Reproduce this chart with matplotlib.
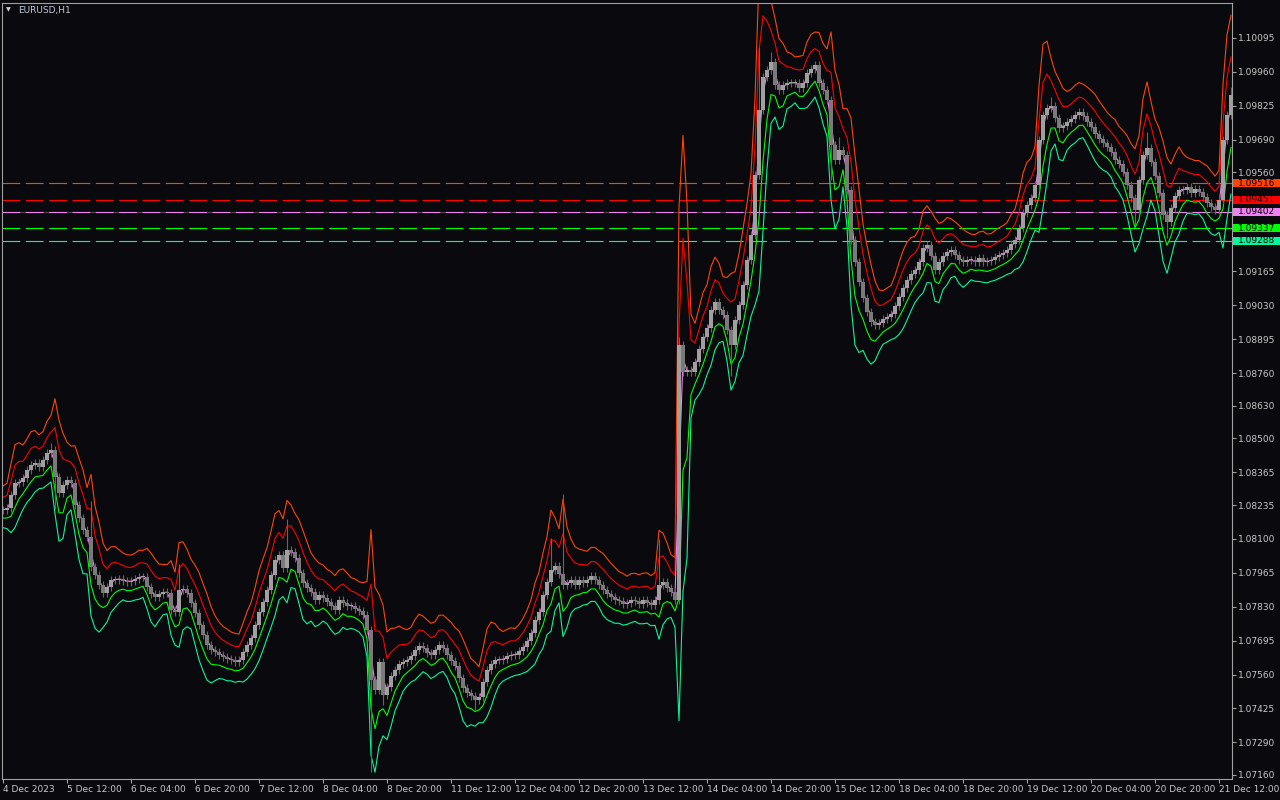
import numpy as np
import pandas as pd
import matplotlib
matplotlib.use("Agg")
import matplotlib.pyplot as plt
from matplotlib.patches import Rectangle

SYMBOL = "EURUSD,H1"

# hourly closes, first bar 4 Dec 2023 20:00
CLOSE = [
    1.08216, 1.08224, 1.08276, 1.08324, 1.08328, 1.08344, 1.08375, 1.08395, 1.08403, 1.08387,
    1.08415, 1.08443, 1.08455, 1.08348, 1.08284, 1.08316, 1.08336, 1.08324, 1.08236, 1.08184,
    1.08137, 1.08109, 1.07990, 1.07958, 1.07918, 1.07886, 1.07910, 1.07938, 1.07938, 1.07942,
    1.07934, 1.07930, 1.07934, 1.07942, 1.07950, 1.07950, 1.07910, 1.07882, 1.07870, 1.07882,
    1.07890, 1.07886, 1.07818, 1.07810, 1.07898, 1.07902, 1.07886, 1.07846, 1.07806, 1.07758,
    1.07719, 1.07679, 1.07659, 1.07651, 1.07639, 1.07631, 1.07623, 1.07619, 1.07611, 1.07619,
    1.07651, 1.07679, 1.07707, 1.07758, 1.07810, 1.07850, 1.07898, 1.07958, 1.08017, 1.08037,
    1.07985, 1.08057, 1.08049, 1.08025, 1.07965, 1.07926, 1.07906, 1.07890, 1.07858, 1.07878,
    1.07866, 1.07850, 1.07834, 1.07818, 1.07858, 1.07846, 1.07834, 1.07834, 1.07822, 1.07814,
    1.07798, 1.07739, 1.07540, 1.07500, 1.07611, 1.07480, 1.07512, 1.07556, 1.07579, 1.07603,
    1.07611, 1.07619, 1.07635, 1.07659, 1.07675, 1.07667, 1.07647, 1.07639, 1.07659, 1.07679,
    1.07667, 1.07639, 1.07615, 1.07595, 1.07548, 1.07508, 1.07488, 1.07476, 1.07460, 1.07472,
    1.07532, 1.07579, 1.07603, 1.07619, 1.07619, 1.07623, 1.07635, 1.07639, 1.07639, 1.07655,
    1.07671, 1.07695, 1.07727, 1.07778, 1.07810, 1.07878, 1.07930, 1.07977, 1.07993, 1.07961,
    1.07918, 1.07926, 1.07938, 1.07918, 1.07938, 1.07926, 1.07938, 1.07954, 1.07938, 1.07918,
    1.07898, 1.07882, 1.07870, 1.07858, 1.07854, 1.07842, 1.07846, 1.07858, 1.07854, 1.07842,
    1.07858, 1.07846, 1.07838, 1.07858, 1.07918, 1.07930, 1.07906, 1.07890, 1.07858, 1.08873,
    1.08765, 1.08773, 1.08765, 1.08805, 1.08857, 1.08905, 1.08941, 1.09012, 1.09044, 1.09012,
    1.08992, 1.08933, 1.08873, 1.08972, 1.09032, 1.09112, 1.09211, 1.09311, 1.09550, 1.09808,
    1.09940, 1.09967, 1.09999, 1.09908, 1.09888, 1.09908, 1.09916, 1.09916, 1.09916, 1.09896,
    1.09916, 1.09955, 1.09971, 1.09987, 1.09916, 1.09888, 1.09848, 1.09669, 1.09609, 1.09649,
    1.09629, 1.09490, 1.09291, 1.09203, 1.09124, 1.09060, 1.09004, 1.08964, 1.08953, 1.08961,
    1.08976, 1.08984, 1.08996, 1.09028, 1.09064, 1.09100, 1.09132, 1.09155, 1.09171, 1.09203,
    1.09259, 1.09271, 1.09227, 1.09171, 1.09203, 1.09227, 1.09243, 1.09251, 1.09231, 1.09211,
    1.09203, 1.09211, 1.09211, 1.09203, 1.09219, 1.09203, 1.09207, 1.09211, 1.09223, 1.09231,
    1.09239, 1.09251, 1.09275, 1.09291, 1.09339, 1.09398, 1.09430, 1.09458, 1.09510, 1.09689,
    1.09788, 1.09816, 1.09824, 1.09776, 1.09737, 1.09744, 1.09760, 1.09772, 1.09788, 1.09800,
    1.09784, 1.09760, 1.09741, 1.09713, 1.09693, 1.09677, 1.09661, 1.09641, 1.09609, 1.09593,
    1.09561, 1.09510, 1.09458, 1.09410, 1.09530, 1.09629, 1.09657, 1.09601, 1.09546, 1.09478,
    1.09390, 1.09362, 1.09418, 1.09466, 1.09490, 1.09490, 1.09502, 1.09478, 1.09494, 1.09482,
    1.09462, 1.09438, 1.09422, 1.09410, 1.09450, 1.09689, 1.09788, 1.09868,
]
# long wicks that stick out (bar index -> price)
WICK_HIGH = {12: 1.08480, 22: 1.08250, 44: 1.08000, 71: 1.08180, 137: 1.08105,
             140: 1.08280, 164: 1.08100, 169: 1.08905, 189: 1.10060, 192: 1.10040,
             209: 1.09700, 262: 1.09860, 286: 1.09720, 307: 1.09900}
WICK_LOW = {13: 1.08220, 92: 1.07170, 95: 1.07440, 118: 1.07420, 182: 1.08750,
            207: 1.09530, 283: 1.09350, 291: 1.09300}

TIME_LABELS = ["4 Dec 2023", "5 Dec 12:00", "6 Dec 04:00", "6 Dec 20:00", "7 Dec 12:00",
               "8 Dec 04:00", "8 Dec 20:00", "11 Dec 12:00", "12 Dec 04:00", "12 Dec 20:00",
               "13 Dec 12:00", "14 Dec 04:00", "14 Dec 20:00", "15 Dec 12:00", "18 Dec 04:00",
               "18 Dec 20:00", "19 Dec 12:00", "20 Dec 04:00", "20 Dec 20:00", "21 Dec 12:00"]
PRICE_TICKS = [1.10095, 1.09960, 1.09825, 1.09690, 1.09560, 1.09165, 1.09030, 1.08895,
               1.08760, 1.08630, 1.08500, 1.08365, 1.08235, 1.08100, 1.07965, 1.07830,
               1.07695, 1.07560, 1.07425, 1.07290, 1.07160]
LEVELS = [1.09516, 1.09451, 1.09402, 1.09337, 1.09288]

BG = "#0a0a0e"
TXT = "#c8c8c8"
C_UP2, C_UP1, C_MID, C_DN1, C_DN2 = "#ff4500", "#ff0000", "#ee82ee", "#00ff00", "#00fa9a"
LEVEL_COLORS = [C_UP2, C_UP1, C_MID, C_DN1, C_DN2]

close = pd.Series(CLOSE)
n = len(close)
x = np.arange(n)
opn = close.shift(1).fillna(close.iloc[0])
hi = (np.maximum(opn, close) + 0.00016).to_numpy()
lo = (np.minimum(opn, close) - 0.00016).to_numpy()
for k, v in WICK_HIGH.items():
    hi[k] = max(hi[k], v)
for k, v in WICK_LOW.items():
    lo[k] = min(lo[k], v)

# bands: fast mean +/- range and deviation terms
prev = opn.to_numpy()
tr = pd.Series(np.maximum(hi, prev) - np.minimum(lo, prev))
atr = tr.ewm(alpha=0.5, adjust=False).mean()
sd = close.rolling(4, min_periods=1).std(ddof=0)
mid = close.rolling(2, min_periods=1).mean()
up2 = mid + 0.00062 + 1.0 * atr + 1.0 * sd
up1 = mid + 0.00030 + 0.6 * atr + 0.5 * sd
dn1 = mid - 0.00020 - 0.4 * atr - 0.6 * sd
dn2 = mid - 0.00052 - 0.6 * atr - 1.4 * sd

fig = plt.figure(figsize=(12.8, 8), dpi=100, facecolor=BG)
ax = fig.add_axes([2 / 1280, 21 / 800, 1230 / 1280, 776 / 800], facecolor=BG)
ax.set_xlim(-0.25, 307.25)
ax.set_ylim(1.07144, 1.10234)

# level lines
ax.axhline(LEVELS[2], color="#4a4a4a", lw=0.8, zorder=1)
for lv, col in zip(LEVELS, LEVEL_COLORS):
    ln = ax.axhline(lv, color=col, lw=0.8, zorder=1.5)
    ln.set_dashes((16, 5))

for s, col in [(up2, C_UP2), (up1, C_UP1), (dn2, C_DN2), (dn1, C_DN1), (mid, C_MID)]:
    ax.plot(x, s, color=col, lw=0.8, zorder=2)

# candles
ax.vlines(x, lo, hi, color="#666666", lw=0.8, zorder=3)
bull = (close >= opn).to_numpy()
body_lo = np.minimum(opn, close).to_numpy()
body_h = np.maximum(np.abs(close - opn), 0.00004).to_numpy()
ax.bar(x[bull], body_h[bull], bottom=body_lo[bull], width=0.8, color="#a0a0a0", zorder=4)
ax.bar(x[~bull], body_h[~bull], bottom=body_lo[~bull], width=0.8, color="#7a7a7a", zorder=4)

for sp in ax.spines.values():
    sp.set_color("#a0a0a0")
    sp.set_linewidth(0.8)

ax.yaxis.tick_right()
ax.set_yticks(PRICE_TICKS)
ax.set_yticklabels([f"{p:.5f}" for p in PRICE_TICKS])
ax.set_xticks(np.arange(len(TIME_LABELS)) * 16)
ax.set_xticklabels(TIME_LABELS, ha="left")
ax.tick_params(colors="#a0a0a0", labelcolor=TXT, labelsize=6.5, length=3, width=0.8, pad=1.5)

# price tags on the right scale
for lv, col in zip(LEVELS, LEVEL_COLORS):
    ax.add_patch(Rectangle((1.001, lv - 0.00016), 0.0385, 0.00032, transform=ax.get_yaxis_transform(),
                           facecolor=col, edgecolor="none", clip_on=False, zorder=5))
    ax.text(1.0045, lv, f"{lv:.5f}", transform=ax.get_yaxis_transform(), fontsize=6.5,
            color="black", va="center", ha="left", zorder=6)

fig.text(6 / 1280, 1 - 10 / 800, "\u25bc", fontsize=4.5, color="#d0d0d0", va="center")
fig.text(18 / 1280, 1 - 10 / 800, SYMBOL, fontsize=6.5, color="#c0c8d8", va="center")

fig.savefig("out.png", dpi=100, facecolor=BG)
